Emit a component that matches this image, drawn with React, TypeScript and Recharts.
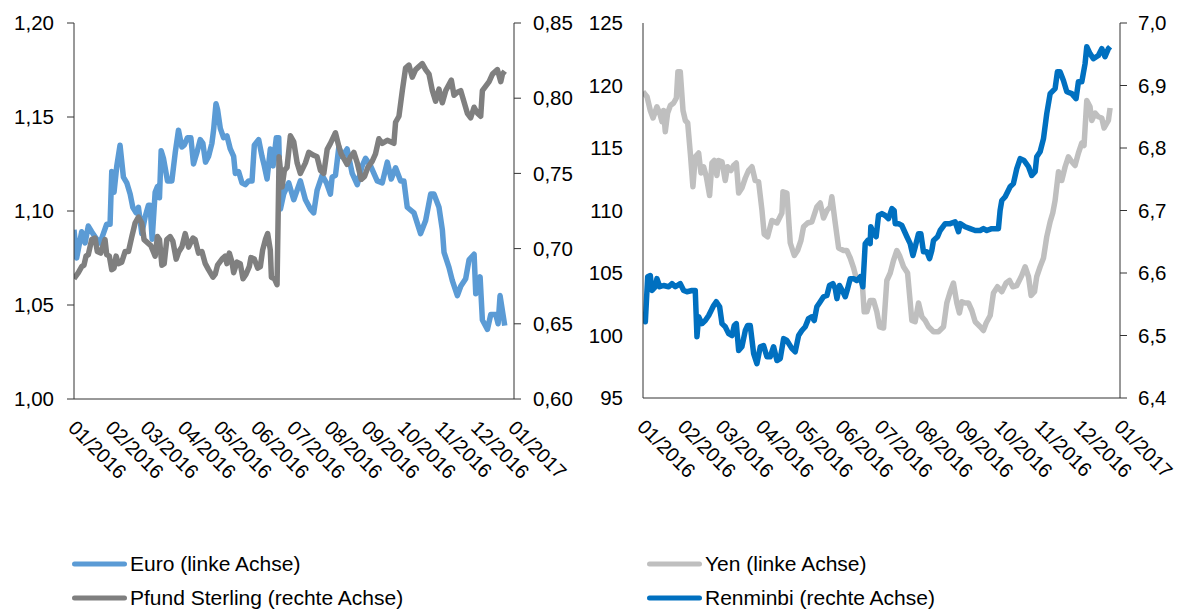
import React from "react";
import { LineChart, Line, XAxis, YAxis } from "recharts";

// x positions are days since 01.01.2016
const monthDays = [0, 31, 60, 91, 121, 152, 182, 213, 244, 274, 305, 335, 366];
const monthLabels = [
  "01/2016", "02/2016", "03/2016", "04/2016", "05/2016", "06/2016", "07/2016",
  "08/2016", "09/2016", "10/2016", "11/2016", "12/2016", "01/2017",
];

const eurTicks = [1.0, 1.05, 1.1, 1.15, 1.2];
const gbpTicks = [0.6, 0.65, 0.7, 0.75, 0.8, 0.85];
const jpyTicks = [95, 100, 105, 110, 115, 120, 125];
const cnyTicks = [6.4, 6.5, 6.6, 6.7, 6.8, 6.9, 7.0];

// Euro (linke Achse)
const eurDays = [
  0, 2.2, 6.4, 9.2, 11.9, 14.7, 18.9, 21.7, 27.2, 30, 31.4, 33.3, 35.6, 38.3, 41.1, 43.9, 46.7, 48.9, 51.7, 53.6,
  56.4, 59.2, 61.9, 63.3, 65, 67.5, 69.4, 71.1, 72.5, 74.4, 77.8, 81.4, 84.2, 86.9, 89.7, 91.7, 94.4, 97.2, 99.4, 102.2,
  105, 107.2, 109.4, 111.9, 114.7, 116.1, 118.1, 119.4, 121.7, 124.4, 127.2, 130, 132.8, 134.2, 136.9, 139.7, 142.5, 145.3, 148.1, 150,
  153.6, 156.4, 158.3, 160.6, 163.3, 165.6, 168.3, 170.3, 171.7, 174.4, 178.6, 182.8, 188.3, 192.5, 196.7, 199.4, 202.2, 206.4, 210, 213.3,
  214.7, 217.5, 220.3, 223, 227.2, 231.4, 235.6, 239.7, 242.5, 246.7, 252.2, 256.4, 260.6, 263.9, 267.5, 271.7, 274.4, 277.2, 282.8, 288.3,
  292.5, 296.7, 299.4, 303.6, 306.4, 307.8, 311.9, 314.7, 318.9, 321.7, 325.8, 328.6, 332.8, 334.2, 337.8, 339.7, 343.9, 346.7, 350.8, 352.8,
  354.4, 358.3,
];
const eurValues = [
  1.090, 1.075, 1.089, 1.083, 1.092, 1.089, 1.085, 1.083, 1.093, 1.093, 1.121, 1.110, 1.124, 1.135, 1.118, 1.115, 1.109, 1.102, 1.099, 1.102,
  1.088, 1.097, 1.103, 1.103, 1.085, 1.110, 1.113, 1.107, 1.132, 1.128, 1.116, 1.116, 1.131, 1.143, 1.134, 1.135, 1.139, 1.139, 1.125, 1.131,
  1.138, 1.136, 1.126, 1.129, 1.136, 1.143, 1.157, 1.154, 1.144, 1.139, 1.140, 1.133, 1.129, 1.120, 1.121, 1.115, 1.114, 1.116, 1.116, 1.135,
  1.138, 1.129, 1.124, 1.117, 1.133, 1.124, 1.139, 1.139, 1.101, 1.109, 1.115, 1.106, 1.116, 1.106, 1.101, 1.099, 1.111, 1.119, 1.115, 1.109,
  1.118, 1.119, 1.134, 1.129, 1.133, 1.120, 1.114, 1.124, 1.128, 1.124, 1.116, 1.115, 1.126, 1.117, 1.123, 1.116, 1.116, 1.102, 1.099, 1.088,
  1.095, 1.109, 1.109, 1.102, 1.090, 1.078, 1.070, 1.063, 1.055, 1.060, 1.064, 1.074, 1.077, 1.056, 1.065, 1.042, 1.037, 1.045, 1.045, 1.040,
  1.055, 1.039,
];

// Pfund Sterling (rechte Achse)
const gbpDays = [
  0, 3.6, 6.4, 8.3, 10, 11.9, 14.7, 17.5, 19.4, 22.2, 25.8, 27.2, 29.4, 31.4, 33.3, 35, 36.9, 39.7, 42.5, 45.3,
  48.1, 50.8, 53.6, 56.4, 58.3, 61.1, 63.9, 67.5, 69.4, 71.1, 73.1, 75, 77.2, 80, 82.2, 85, 87.2, 89.7, 92.5, 95.3,
  98.9, 100.8, 103.6, 106.4, 109.2, 111.9, 115.6, 117.5, 119.4, 123.1, 125.8, 127.2, 129.2, 131.4, 132.8, 135.6, 138.3, 140.6, 143.1, 145.8,
  147.2, 150, 152.8, 155, 156.9, 159.2, 161.1, 163.3, 164.2, 166.7, 168.9, 170.6, 173.1, 175, 177.2, 180, 182.8, 185.6, 188.3, 192.5,
  195.3, 199.4, 202.2, 205, 207.8, 210.6, 213.3, 217.5, 220.3, 222.2, 224.4, 227.2, 230, 232.8, 235.6, 238.9, 241.7, 244.4, 248, 250.8,
  253.6, 256.4, 260.6, 266.1, 267.5, 270.3, 273.1, 275.8, 278.6, 281.4, 284.2, 286.9, 289.7, 292.5, 295.3, 298.1, 300.8, 303.6, 306.4, 309.2,
  311.9, 313.9, 316.1, 318.9, 321.7, 323.9, 327.2, 330, 332.8, 335.6, 338.3, 339.7, 342.5, 345.3, 348.1, 352.2, 355, 356.4, 358.3,
];
const gbpValues = [
  0.680, 0.684, 0.688, 0.689, 0.695, 0.696, 0.706, 0.707, 0.698, 0.697, 0.706, 0.696, 0.695, 0.686, 0.687, 0.695, 0.690, 0.691, 0.698, 0.698,
  0.708, 0.717, 0.721, 0.717, 0.706, 0.704, 0.702, 0.695, 0.708, 0.706, 0.689, 0.690, 0.706, 0.708, 0.705, 0.693, 0.698, 0.701, 0.710, 0.701,
  0.707, 0.706, 0.697, 0.698, 0.690, 0.686, 0.681, 0.683, 0.689, 0.693, 0.695, 0.690, 0.697, 0.691, 0.684, 0.691, 0.690, 0.680, 0.683, 0.688,
  0.694, 0.693, 0.687, 0.688, 0.699, 0.706, 0.710, 0.699, 0.681, 0.680, 0.676, 0.761, 0.741, 0.752, 0.754, 0.775, 0.771, 0.757, 0.750, 0.757,
  0.764, 0.762, 0.761, 0.752, 0.750, 0.766, 0.770, 0.777, 0.768, 0.763, 0.760, 0.756, 0.761, 0.764, 0.757, 0.746, 0.748, 0.754, 0.758, 0.763,
  0.773, 0.770, 0.772, 0.770, 0.784, 0.788, 0.805, 0.820, 0.822, 0.814, 0.819, 0.821, 0.823, 0.819, 0.816, 0.805, 0.798, 0.806, 0.797, 0.805,
  0.809, 0.812, 0.802, 0.804, 0.805, 0.799, 0.790, 0.787, 0.794, 0.790, 0.788, 0.805, 0.808, 0.811, 0.816, 0.819, 0.811, 0.816, 0.818,
];

// Yen (linke Achse)
const jpyDays = [
  0, 3.1, 5.6, 7.7, 10.7, 12.8, 14.6, 15.8, 17.1, 18.9, 21, 23.5, 25.6, 26.8, 28.6, 30.7, 32.5, 34.3, 36.3, 38.3,
  40.1, 42.7, 44.5, 46.5, 48.6, 51.1, 52.9, 54.7, 56.7, 58, 60.6, 63.1, 64.9, 67.5, 69.5, 71.6, 73.4, 75.9, 78.5, 81,
  83.6, 86.1, 88.7, 91.3, 93, 95.6, 98.9, 102.8, 106.6, 107.4, 110.4, 113, 116.1, 118.6, 121.2, 123.2, 126.3, 129.6, 133.4, 136,
  138.5, 141.1, 143.7, 144.9, 147.5, 150.1, 153.9, 156.4, 159, 161.6, 164.1, 168, 169.7, 171.8, 174.3, 176.9, 179.4, 181.5, 184.6, 187.1,
  189.7, 192.2, 194.8, 196.8, 199.9, 203, 206.3, 208.8, 211.4, 214, 216.5, 219.1, 222.9, 226.7, 230.6, 233.1, 235.7, 238.2, 240.8, 242.8,
  244.6, 247.2, 249.7, 252.3, 254.9, 258.7, 261.2, 263.3, 266.4, 268.9, 272, 275.3, 278.6, 281.2, 283.7, 286.8, 290.6, 293.2, 295.8, 297.8,
  300.4, 302.1, 304.7, 307.3, 309.8, 312.4, 314.4, 316.2, 318.8, 321.3, 323.9, 326.4, 329, 331.5, 334.1, 336.7, 338.4, 340.5, 343, 344.3,
  346.9, 349.4, 352, 353.8, 357.1, 358.4,
];
const jpyValues = [
  119.5, 119.1, 118.0, 117.4, 118.3, 117.8, 117.1, 118.0, 116.3, 117.8, 118.4, 118.6, 119.0, 121.1, 121.1, 118.0, 117.2, 117.0, 114.6, 111.9,
  114.3, 114.6, 113.0, 113.5, 112.7, 111.2, 113.8, 114.0, 112.8, 114.0, 113.9, 112.4, 113.5, 113.2, 113.6, 113.8, 111.4, 111.8, 112.6, 113.2,
  113.5, 112.4, 112.3, 110.0, 108.1, 107.9, 109.2, 109.0, 109.8, 111.5, 111.4, 107.4, 106.4, 106.8, 107.6, 108.7, 109.0, 109.1, 110.3, 110.6,
  109.4, 110.0, 110.3, 111.1, 109.0, 107.0, 106.8, 106.8, 106.2, 105.4, 104.4, 104.6, 101.9, 101.9, 102.8, 102.8, 101.9, 100.7, 100.6, 104.4,
  105.0, 106.0, 106.8, 106.4, 105.5, 105.0, 101.2, 101.1, 102.6, 101.5, 101.2, 100.7, 100.3, 100.3, 100.7, 102.6, 103.5, 104.2, 102.6, 101.8,
  102.7, 102.6, 102.6, 102.0, 101.1, 100.7, 100.4, 101.0, 101.6, 103.4, 103.9, 103.5, 104.2, 104.4, 103.9, 104.0, 104.8, 105.5, 104.7, 103.2,
  103.5, 104.7, 105.5, 106.2, 107.9, 109.1, 109.8, 110.8, 113.1, 112.4, 113.5, 114.3, 113.9, 113.6, 114.6, 115.4, 115.2, 118.8, 118.3, 117.2,
  117.8, 117.5, 117.4, 116.6, 117.2, 118.2,
];

// Renminbi (rechte Achse)
const cnyDays = [
  0, 1.8, 3.6, 5.6, 6.9, 9.5, 10.7, 12.8, 15.8, 19.7, 22.2, 24.8, 28.6, 31.2, 33.7, 37.6, 40.1, 41.4, 42.7, 45.2,
  47.8, 50.4, 54.2, 56.2, 58.8, 60.6, 63.1, 65.7, 68.3, 70, 71.6, 73.4, 75.9, 78.5, 80.3, 82.3, 84.9, 87.4, 90, 92.5,
  95.1, 97.6, 100.2, 102.8, 105.3, 107.9, 110.4, 114.3, 116.8, 119.4, 121.9, 124.5, 127, 129.6, 131.4, 133.4, 136, 138.5, 141.1, 143.1,
  145.7, 147.5, 148.8, 150.8, 153.4, 155.2, 157, 159, 161.6, 164.1, 166.7, 168.7, 170.5, 172.4, 174.3, 174.8, 176.9, 178.9, 180.7, 183.3,
  185.8, 188.4, 191, 192.7, 193.5, 196.1, 198.6, 202.5, 205, 207.1, 208.9, 211.4, 213.2, 215.2, 217.8, 219.9, 221.6, 222.9, 226, 228,
  231.9, 235.7, 239.5, 242.1, 243.4, 247.2, 251, 254.9, 258.7, 261.2, 263.8, 267.6, 272.7, 274, 275.3, 277.9, 281.7, 284.2, 286.8, 289.4,
  292.4, 295.8, 298.3, 300.9, 302.1, 304.7, 307.3, 309.8, 312.4, 316.2, 318, 320, 322.6, 325.2, 329, 332.3, 334.1, 336.7, 339.2, 340.5,
  343, 345.6, 349.4, 352, 354.5, 357.1, 358.4,
];
const cnyValues = [
  6.538, 6.522, 6.594, 6.596, 6.572, 6.578, 6.591, 6.578, 6.580, 6.578, 6.583, 6.578, 6.583, 6.572, 6.570, 6.572, 6.572, 6.498, 6.530, 6.519,
  6.524, 6.532, 6.548, 6.554, 6.546, 6.519, 6.514, 6.503, 6.500, 6.516, 6.519, 6.476, 6.482, 6.508, 6.516, 6.516, 6.471, 6.455, 6.482, 6.484,
  6.466, 6.466, 6.482, 6.460, 6.463, 6.495, 6.492, 6.479, 6.474, 6.500, 6.508, 6.514, 6.527, 6.530, 6.524, 6.546, 6.554, 6.562, 6.564, 6.580,
  6.583, 6.575, 6.559, 6.580, 6.570, 6.562, 6.575, 6.591, 6.591, 6.588, 6.594, 6.578, 6.647, 6.652, 6.647, 6.674, 6.663, 6.658, 6.692, 6.695,
  6.692, 6.687, 6.703, 6.700, 6.679, 6.679, 6.676, 6.658, 6.647, 6.628, 6.642, 6.663, 6.663, 6.634, 6.634, 6.623, 6.636, 6.652, 6.658, 6.668,
  6.679, 6.679, 6.682, 6.666, 6.679, 6.674, 6.671, 6.668, 6.668, 6.671, 6.668, 6.671, 6.671, 6.700, 6.716, 6.722, 6.738, 6.743, 6.767, 6.783,
  6.780, 6.770, 6.756, 6.762, 6.786, 6.794, 6.815, 6.855, 6.887, 6.895, 6.922, 6.922, 6.908, 6.890, 6.887, 6.879, 6.906, 6.906, 6.935, 6.962,
  6.951, 6.943, 6.948, 6.959, 6.946, 6.959, 6.962,
];

const FONT = '"Liberation Sans", Arial, sans-serif';
const AXIS = "#333333";
const EUR_COLOR = "#5B9BD5";
const GBP_COLOR = "#7F7F7F";
const JPY_COLOR = "#BFBFBF";
const CNY_COLOR = "#0070C0";
const LINE_W = 5.5;

const toPoints = (days: number[], values: number[]) =>
  days.map((day, i) => ({ day, v: values[i] }));

const comma = (v: number, digits: number) => v.toFixed(digits).replace(".", ",");

const MonthTick = (props: any) => {
  const { x, y, payload } = props;
  const i = monthDays.indexOf(payload.value);
  const px = x - 7;
  const py = y + 30;
  return (
    <text
      x={px}
      y={py}
      transform={`rotate(45 ${px} ${py})`}
      textAnchor="start"
      fontSize={20}
      fontFamily={FONT}
      fill="#000"
    >
      {monthLabels[i]}
    </text>
  );
};

const tickText = { fill: "#000", fontSize: 20.5, fontFamily: FONT };

function xAxis(height: number) {
  return (
    <XAxis
      type="number"
      dataKey="day"
      domain={[0, 366]}
      ticks={monthDays}
      interval={0}
      tick={<MonthTick />}
      tickLine={false}
      tickSize={0}
      tickMargin={0}
      height={height}
      axisLine={{ stroke: AXIS, strokeWidth: 1 }}
      allowDataOverflow
    />
  );
}

function LegendItem({ x, y, color, label }: { x: number; y: number; color: string; label: string }) {
  return (
    <g>
      <line x1={x + 2.5} x2={x + 52.5} y1={y} y2={y} stroke={color} strokeWidth={5} strokeLinecap="round" />
      <text x={x + 58} y={y + 7} fontSize={21} fontFamily={FONT} fill="#000">
        {label}
      </text>
    </g>
  );
}

export default function App() {
  const eurData = toPoints(eurDays, eurValues);
  const gbpData = toPoints(gbpDays, gbpValues);
  const jpyData = toPoints(jpyDays, jpyValues);
  const cnyData = toPoints(cnyDays, cnyValues);

  return (
    <div style={{ position: "absolute", left: 0, top: 0, width: 1179, height: 610, background: "#fff" }}>
      <div style={{ position: "absolute", left: 0, top: 0 }}>
        <LineChart width={590} height={500} margin={{ top: 23, right: 0, bottom: 0, left: 0 }}>
          {xAxis(101)}
          <YAxis
            yAxisId="eur"
            type="number"
            domain={[1, 1.2]}
            ticks={eurTicks}
            interval={0}
            tickFormatter={(v: number) => comma(v, 2)}
            width={74}
            tickSize={7}
            tickMargin={13}
            axisLine={{ stroke: AXIS }}
            tickLine={{ stroke: AXIS }}
            tick={tickText}
          />
          <YAxis
            yAxisId="gbp"
            orientation="right"
            type="number"
            domain={[0.6, 0.85]}
            ticks={gbpTicks}
            interval={0}
            tickFormatter={(v: number) => comma(v, 2)}
            width={76}
            tickSize={7}
            tickMargin={12}
            axisLine={{ stroke: AXIS }}
            tickLine={{ stroke: AXIS }}
            tick={tickText}
          />
          <Line
            yAxisId="eur"
            data={eurData}
            dataKey="v"
            type="linear"
            stroke={EUR_COLOR}
            strokeWidth={LINE_W}
            strokeLinejoin="round"
            dot={false}
            isAnimationActive={false}
          />
          <Line
            yAxisId="gbp"
            data={gbpData}
            dataKey="v"
            type="linear"
            stroke={GBP_COLOR}
            strokeWidth={LINE_W}
            strokeLinejoin="round"
            dot={false}
            isAnimationActive={false}
          />
        </LineChart>
      </div>

      <div style={{ position: "absolute", left: 590, top: 0 }}>
        <LineChart width={589} height={500} margin={{ top: 23, right: 0, bottom: 0, left: 0 }}>
          {xAxis(102)}
          <YAxis
            yAxisId="jpy"
            type="number"
            domain={[95, 125]}
            ticks={jpyTicks}
            interval={0}
            width={53}
            tickLine={false}
            tickSize={0}
            tickMargin={20}
            axisLine={{ stroke: AXIS }}
            tick={tickText}
          />
          <YAxis
            yAxisId="cny"
            orientation="right"
            type="number"
            domain={[6.4, 7.0]}
            ticks={cnyTicks}
            interval={0}
            tickFormatter={(v: number) => comma(v, 1)}
            width={59}
            tickSize={7}
            tickMargin={11}
            axisLine={{ stroke: AXIS }}
            tickLine={{ stroke: AXIS }}
            tick={tickText}
          />
          <Line
            yAxisId="jpy"
            data={jpyData}
            dataKey="v"
            type="linear"
            stroke={JPY_COLOR}
            strokeWidth={LINE_W}
            strokeLinejoin="round"
            dot={false}
            isAnimationActive={false}
          />
          <Line
            yAxisId="cny"
            data={cnyData}
            dataKey="v"
            type="linear"
            stroke={CNY_COLOR}
            strokeWidth={LINE_W}
            strokeLinejoin="round"
            dot={false}
            isAnimationActive={false}
          />
        </LineChart>
      </div>

      <svg width={1179} height={110} style={{ position: "absolute", left: 0, top: 500 }}>
        <LegendItem x={72} y={64} color={EUR_COLOR} label="Euro (linke Achse)" />
        <LegendItem x={72} y={98} color={GBP_COLOR} label="Pfund Sterling (rechte Achse)" />
        <LegendItem x={647} y={64} color={JPY_COLOR} label="Yen (linke Achse)" />
        <LegendItem x={647} y={98} color={CNY_COLOR} label="Renminbi (rechte Achse)" />
      </svg>
    </div>
  );
}
